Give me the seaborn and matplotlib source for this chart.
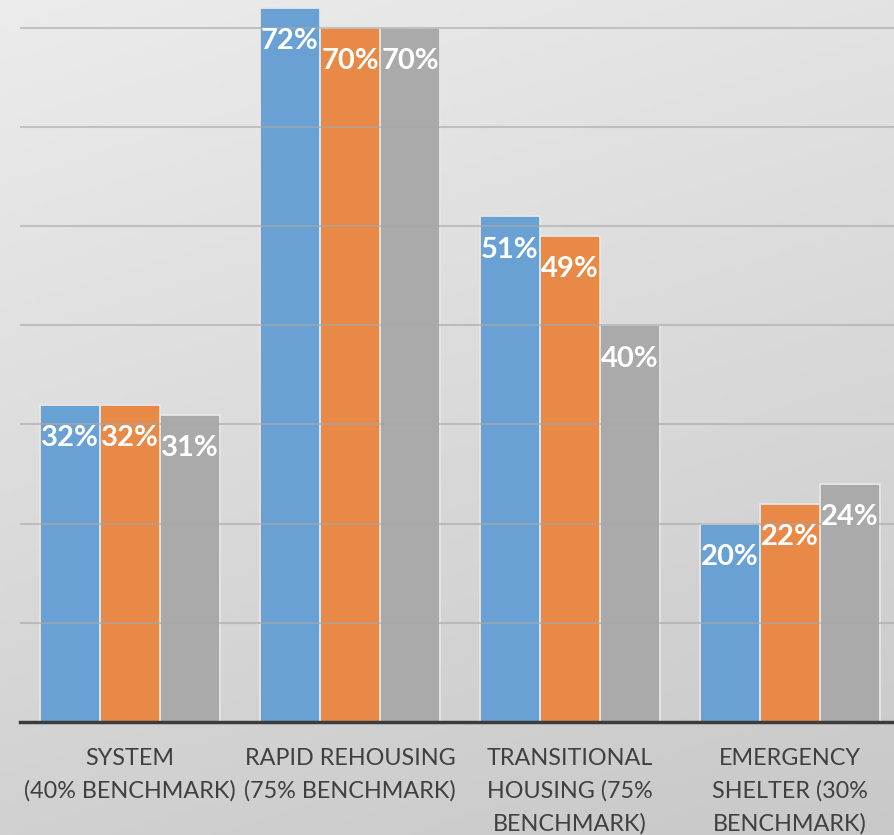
import numpy as np
import pandas as pd
import matplotlib
matplotlib.use("Agg")
import matplotlib.pyplot as plt
import seaborn as sns

categories = ["SYSTEM\n(40% BENCHMARK)", "RAPID REHOUSING\n(75% BENCHMARK)",
              "TRANSITIONAL\nHOUSING (75%\nBENCHMARK)", "EMERGENCY\nSHELTER (30%\nBENCHMARK)"]
series = ["Series 1", "Series 2", "Series 3"]
values_s1 = [0.32, 0.72, 0.51, 0.20]
values_s2 = [0.32, 0.70, 0.49, 0.22]
values_s3 = [0.31, 0.70, 0.40, 0.24]
colors = ["#6aa1d4", "#e88948", "#aaaaaa"]

rows = []
for s, vals in zip(series, [values_s1, values_s2, values_s3]):
    for c, v in zip(categories, vals):
        rows.append({"category": c, "series": s, "value": v})
df = pd.DataFrame(rows)

sns.set_theme(style="white")
plt.rcParams['font.family'] = ['Lato', 'DejaVu Sans']

W, H = 895, 835
fig = plt.figure(figsize=(W / 100, H / 100), dpi=100)

# gradient background
bg = fig.add_axes([0, 0, 1, 1], zorder=-10)
yy, xx = np.mgrid[0:1:200j, 0:1:200j]
t = 0.75 * yy + 0.25 * xx
top = np.array([0.925, 0.925, 0.925])
bot = np.array([0.785, 0.785, 0.785])
img = top[None, None, :] * (1 - t[..., None]) + bot[None, None, :] * t[..., None]
bg.imshow(img, aspect="auto", extent=[0, 1, 1, 0])
bg.axis("off")

ax = fig.add_axes([20 / W, (H - 722) / H, 880 / W, 722 / H])
ax.patch.set_alpha(0)

sns.barplot(data=df, x="category", y="value", hue="series", order=categories,
            hue_order=series, palette=colors, width=0.82, ax=ax,
            edgecolor="#e6e6e6", linewidth=1.3, legend=False, errorbar=None,
            saturation=1, zorder=2)

ax.set_xlim(-0.5, 3.5)
ax.set_ylim(0, 0.728)
ax.set_yticks([0.1, 0.2, 0.3, 0.4, 0.5, 0.6, 0.7])
ax.set_yticklabels([])
ax.tick_params(axis="y", length=0)
ax.yaxis.grid(True, color="#a8a8a8", linewidth=1.5, alpha=0.6, zorder=3)
ax.set_axisbelow(False)
ax.xaxis.grid(False)
for sp in ["top", "right", "left"]:
    ax.spines[sp].set_visible(False)
ax.spines["bottom"].set_color("#3c3c3c")
ax.spines["bottom"].set_linewidth(2.5)
ax.spines["bottom"].set_zorder(5)
ax.set_xlabel("")
ax.set_ylabel("")
ax.tick_params(axis="x", length=0, pad=19, labelsize=16.8, labelcolor="#404040")
for lbl in ax.get_xticklabels():
    lbl.set_linespacing(1.62)

for container in ax.containers:
    for bar in container:
        h = bar.get_height()
        ax.annotate(f"{h*100:.0f}%", (bar.get_x() + bar.get_width() / 2, h),
                    xytext=(0, -24), textcoords="offset points",
                    ha="center", va="center", color="white",
                    fontsize=21, fontweight="bold", zorder=6)

fig.savefig("out.png", dpi=100)
